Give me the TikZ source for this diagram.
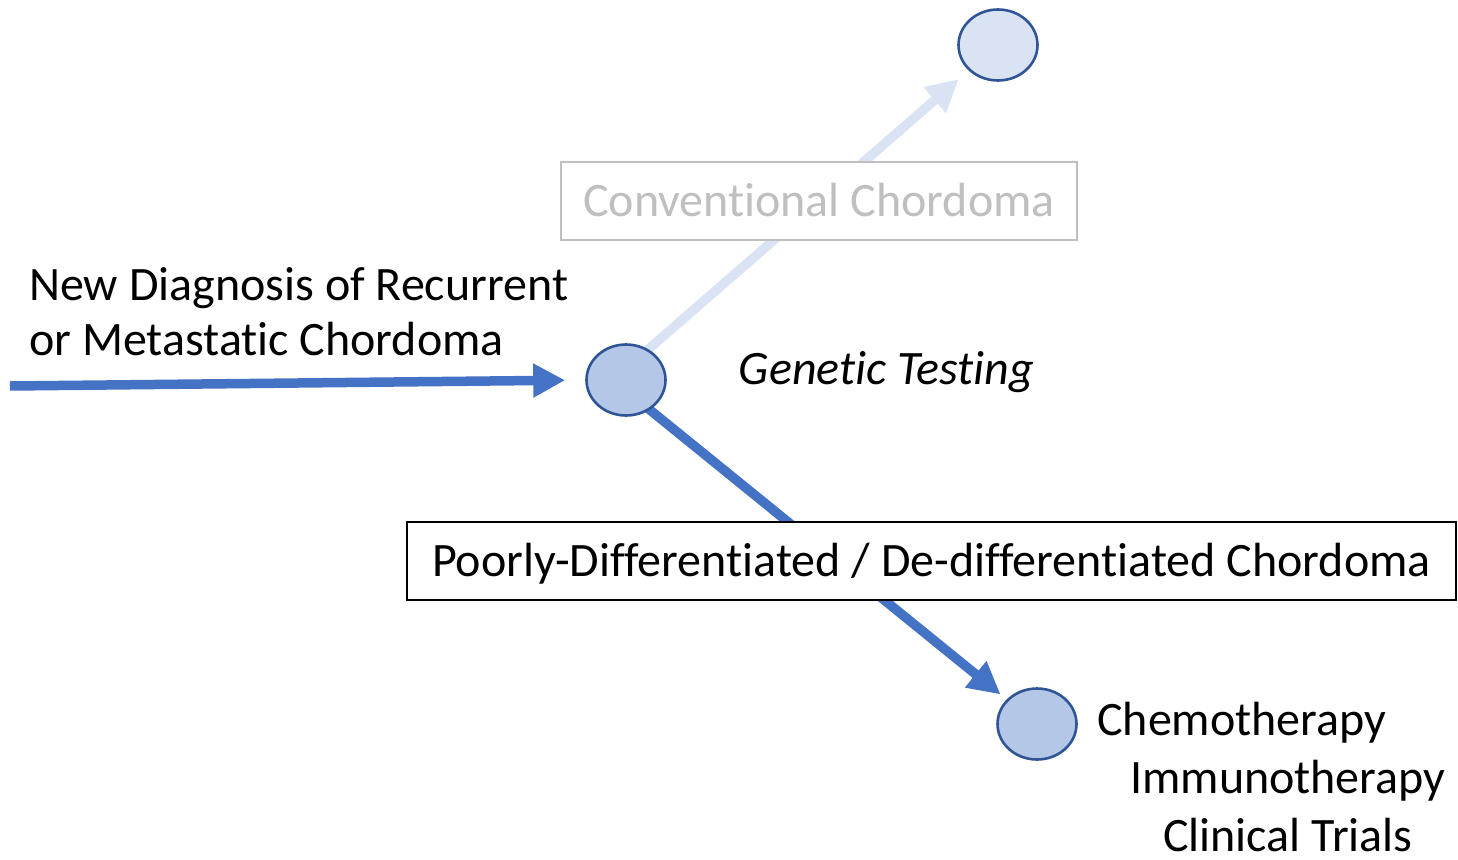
\documentclass[tikz,border=0pt]{standalone}
\usepackage{fontspec}
\setmainfont{Carlito}[Ligatures=NoCommon]
\usetikzlibrary{arrows.meta,backgrounds,shapes.geometric}
\definecolor{darkblue}{HTML}{2F5597}
\definecolor{midblue}{HTML}{4472C4}
\definecolor{fillmid}{HTML}{B4C7E7}
\definecolor{filllight}{HTML}{DAE3F3}
\definecolor{greytxt}{HTML}{BFBFBF}
\tikzset{
  dot/.style={ellipse, draw=darkblue, line width=2.6pt, minimum width=79pt, minimum height=71pt, inner sep=0pt},
  lbl/.style={font=\fontsize{48}{55}\selectfont, inner sep=0pt},
  boxlbl/.style={draw, line width=1.5pt, fill=white, font=\fontsize{48}{55}\selectfont, inner sep=0pt, text height=31pt, text depth=0pt},
  conn/.style={line width=9.5pt, -{Triangle[length=32pt,width=32pt]}},
}
\begin{document}
\begin{tikzpicture}[x=1pt,y=-1pt]
\useasboundingbox (0,0) rectangle (1458,859);
\node[dot, fill=fillmid] (c1) at (626,380) {};
\node[dot, fill=filllight] (c2) at (998,45) {};
\node[dot, fill=fillmid] (c3) at (1037,724) {};
\coordinate (start) at (10,386);
\coordinate (split) at (613,380);
\node[boxlbl, draw=greytxt, text=greytxt, minimum width=516pt, minimum height=78pt] (conv) at (819,201) {Conventional Chordoma};
\node[boxlbl, draw=black, minimum width=1049pt, minimum height=78pt] (poor) at (931.5,561) {Poorly-Differentiated / De-differentiated Chordoma};
\node[lbl, anchor=base west] (newdx1) at (29,300) {New Diagnosis of Recurrent};
\node[lbl, anchor=base west] (newdx2) at (29,355) {or Metastatic Chordoma};
\node[lbl, anchor=base, font=\fontsize{48}{55}\selectfont\itshape] (gen) at (886.5,384) {Genetic Testing};
\node[lbl, anchor=base west] (chemo) at (1097,735) {Chemotherapy};
\node[lbl, anchor=base west] (immuno) at (1130,793) {Immunotherapy};
\node[lbl, anchor=base west] (trials) at (1163,851) {Clinical Trials};
\begin{scope}[on background layer]
\draw[conn, midblue, shorten >=20pt] (start) -- (c1.west);
\draw[conn, filllight, shorten >=52pt] (split) -- (c2.center);
\draw[conn, midblue, shorten >=47pt] (split) -- (c3.center);
\end{scope}
\end{tikzpicture}
\end{document}
